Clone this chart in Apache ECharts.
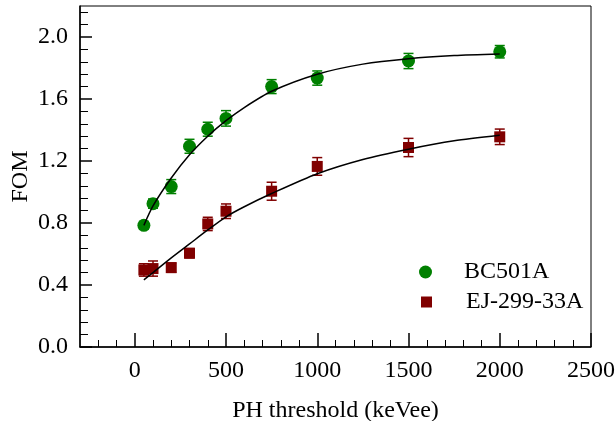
<!DOCTYPE html>
<html>
<head>
<meta charset="utf-8">
<script src="https://cdn.jsdelivr.net/npm/echarts@6/dist/echarts.min.js"></script>
<style>
  html, body { margin: 0; padding: 0; background: #fff; }
  #chart { width: 616px; height: 421px; }
</style>
</head>
<body>
<div id="chart"></div>
<script>
// ---- data ----
const thresholds = [50, 100, 200, 300, 400, 500, 750, 1000, 1500, 2000];
const bcFOM = [0.785, 0.925, 1.035, 1.295, 1.405, 1.475, 1.68, 1.735, 1.845, 1.905];
const bcErr = [0.025, 0.03, 0.045, 0.045, 0.045, 0.05, 0.045, 0.046, 0.049, 0.04];
const ejFOM = [0.497, 0.506, 0.512, 0.605, 0.794, 0.876, 1.005, 1.165, 1.287, 1.356];
const ejErr = [0.04, 0.049, 0.03, 0.03, 0.043, 0.047, 0.058, 0.057, 0.059, 0.05];
const fitX = [50, 100, 200, 300, 400, 500, 600, 750, 1000, 1250, 1500, 1750, 2000];
const bcFit = [0.785, 0.91, 1.09, 1.24, 1.36, 1.46, 1.545, 1.65, 1.76, 1.825, 1.86, 1.88, 1.89];
const ejFit = [0.433, 0.48, 0.575, 0.665, 0.755, 0.84, 0.905, 0.99, 1.118, 1.21, 1.276, 1.33, 1.366];
const xMajorTicks = [0, 500, 1000, 1500, 2000, 2500];
const xMinorTicks = [-200, -100, 100, 200, 300, 400, 600, 700, 800, 900, 1100, 1200, 1300, 1400, 1600, 1700, 1800, 1900, 2100, 2200, 2300, 2400];
const yMajorTicks = [0, 0.4, 0.8, 1.2, 1.6, 2.0];
const yMinorTicks = [0.08, 0.16, 0.24, 0.32, 0.48, 0.56, 0.64, 0.72, 0.88, 0.96, 1.04, 1.12, 1.28, 1.36, 1.44, 1.52, 1.68, 1.76, 1.84, 1.92, 2.08, 2.16];
const seriesNames = ['BC501A', 'EJ-299-33A'];
const xName = 'PH threshold (keVee)';
const yName = 'FOM';

const GREEN = '#008000';
const RED = '#800000';
const FONT = 'Liberation Serif';

function zip(xs, ys) { return xs.map((x, i) => [x, ys[i]]); }
function errData(ys, es) { return thresholds.map((x, i) => [x, ys[i] - es[i], ys[i] + es[i]]); }

function errRender(color) {
  return function (params, api) {
    const x = api.value(0);
    const lo = api.coord([x, api.value(1)]);
    const hi = api.coord([x, api.value(2)]);
    const hw = 5;
    const style = { stroke: color, lineWidth: 1.5 };
    return {
      type: 'group',
      children: [
        { type: 'line', shape: { x1: lo[0], y1: lo[1], x2: hi[0], y2: hi[1] }, style },
        { type: 'line', shape: { x1: lo[0] - hw, y1: lo[1], x2: lo[0] + hw, y2: lo[1] }, style },
        { type: 'line', shape: { x1: hi[0] - hw, y1: hi[1], x2: hi[0] + hw, y2: hi[1] }, style }
      ]
    };
  };
}

const chart = echarts.init(document.getElementById('chart'), null, { renderer: 'canvas' });

const labelStyle = { fontFamily: FONT, fontSize: 24, color: '#000' };

chart.setOption({
  animation: false,
  backgroundColor: '#fff',
  grid: { left: 80, right: 25, top: 6, bottom: 74, containLabel: false, outerBoundsMode: 'none', show: true, borderColor: '#000', borderWidth: 1, backgroundColor: 'transparent' },
  legend: [
    {
      data: [{ name: seriesNames[0], icon: 'circle' }],
      left: 414, top: 255, orient: 'vertical',
      itemWidth: 13, itemHeight: 13,
      textStyle: Object.assign({ padding: [0, 0, 0, 27] }, labelStyle)
    },
    {
      data: [{ name: seriesNames[1], icon: 'rect' }],
      left: 416, top: 285, orient: 'vertical',
      itemWidth: 11, itemHeight: 11,
      textStyle: Object.assign({ padding: [0, 0, 0, 29] }, labelStyle)
    }
  ],
  xAxis: [
    {
      type: 'value', min: -300, max: 2500,
      name: xName, nameLocation: 'middle', nameGap: 52, nameMoveOverlap: false,
      nameTextStyle: labelStyle,
      axisLine: { show: true, onZero: false, lineStyle: { color: '#000', width: 1.5 } },
      axisTick: { show: true, inside: true, length: 14, customValues: xMajorTicks, lineStyle: { color: '#000', width: 1.5 } },
      axisLabel: Object.assign({ customValues: xMajorTicks, margin: 12, formatter: v => String(v) }, labelStyle),
      splitLine: { show: false }
    },
    {
      type: 'value', min: -300, max: 2500, position: 'bottom',
      axisLine: { show: false, onZero: false },
      axisTick: { show: true, inside: true, length: 7, customValues: xMinorTicks, lineStyle: { color: '#000', width: 1 } },
      axisLabel: { show: false },
      splitLine: { show: false }
    }
  ],
  yAxis: [
    {
      type: 'value', min: 0, max: 2.2,
      name: yName, nameLocation: 'middle', nameGap: 47, nameRotate: 90, nameMoveOverlap: false,
      nameTextStyle: labelStyle,
      axisLine: { show: true, onZero: false, lineStyle: { color: '#000', width: 1.5 } },
      axisTick: { show: true, inside: true, length: 12, customValues: yMajorTicks, lineStyle: { color: '#000', width: 1.5 } },
      axisLabel: Object.assign({ margin: 12, customValues: yMajorTicks, formatter: v => Number(v).toFixed(1) }, labelStyle),
      splitLine: { show: false }
    },
    {
      type: 'value', min: 0, max: 2.2, position: 'left',
      axisLine: { show: false, onZero: false },
      axisTick: { show: true, inside: true, length: 8, customValues: yMinorTicks, lineStyle: { color: '#000', width: 1 } },
      axisLabel: { show: false },
      splitLine: { show: false }
    }
  ],
  series: [
    {
      type: 'custom', xAxisIndex: 0, yAxisIndex: 0, silent: true, z: 2,
      renderItem: errRender(GREEN), data: errData(bcFOM, bcErr)
    },
    {
      type: 'custom', xAxisIndex: 0, yAxisIndex: 0, silent: true, z: 2,
      renderItem: errRender(RED), data: errData(ejFOM, ejErr)
    },
    {
      name: seriesNames[0], type: 'scatter', symbol: 'circle', symbolSize: 13, z: 3,
      itemStyle: { color: GREEN, opacity: 1 }, data: zip(thresholds, bcFOM)
    },
    {
      name: seriesNames[1], type: 'scatter', symbol: 'rect', symbolSize: 11, z: 3,
      itemStyle: { color: RED, opacity: 1 }, data: zip(thresholds, ejFOM)
    },
    {
      type: 'line', smooth: 0.25, showSymbol: false, silent: true, z: 4,
      lineStyle: { color: '#000', width: 1.5 }, data: zip(fitX, bcFit)
    },
    {
      type: 'line', smooth: 0.25, showSymbol: false, silent: true, z: 4,
      lineStyle: { color: '#000', width: 1.5 }, data: zip(fitX, ejFit)
    }
  ]
});
</script>
</body>
</html>
